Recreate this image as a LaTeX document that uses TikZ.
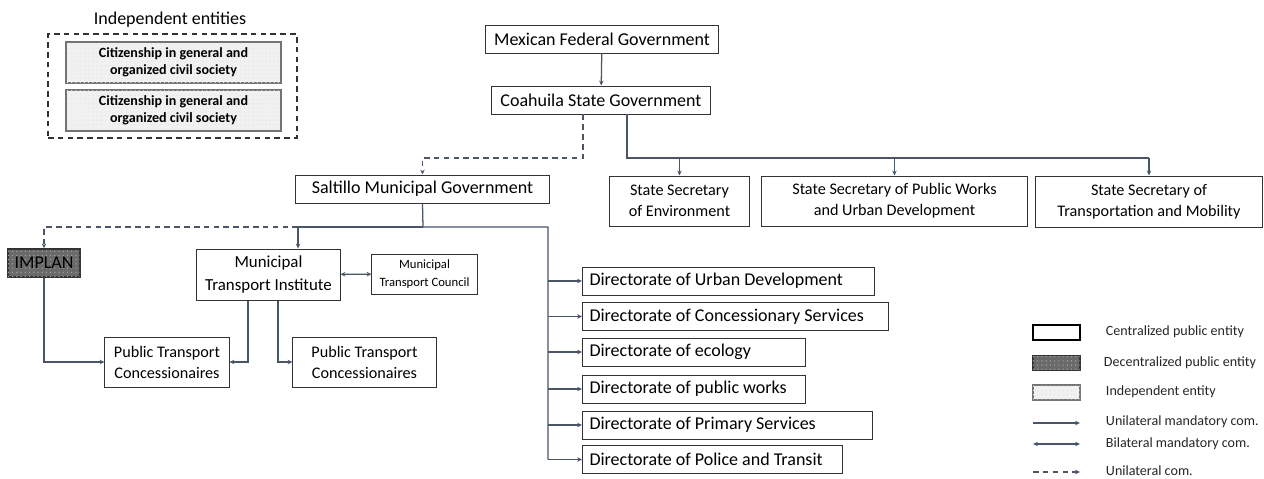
\documentclass[tikz,border=0pt]{standalone}
\usepackage{fontspec}
\setmainfont{Carlito}
\usetikzlibrary{arrows.meta,patterns}

\definecolor{linecol}{HTML}{4A5568}
\definecolor{boxcol}{HTML}{333333}
\definecolor{decfill}{HTML}{6A6A6A}
\definecolor{indfill}{HTML}{F1F1F1}

\newcommand{\bigfont}{\fontsize{12.8}{15}\selectfont}
\newcommand{\midfont}{\fontsize{11.5}{15}\selectfont}
\newcommand{\citfont}{\fontsize{10}{11.8}\selectfont\bfseries}
\newcommand{\mtcfont}{\fontsize{9}{12.3}\selectfont}
\newcommand{\legfont}{\fontsize{10}{12}\selectfont}

\begin{document}
\begin{tikzpicture}[
    x=0.025cm, y=-0.025cm,
    box/.style={draw=boxcol, line width=0.7pt, fill=white, align=center, inner sep=1pt},
    onebox/.style={box, font=\bigfont, minimum height=0.7cm},
    twobox/.style={box, font=\midfont, minimum height=1.25cm},
    dirbox/.style={box, font=\bigfont, anchor=west, align=flush left, inner xsep=0.175cm, minimum height=0.7cm},
    decbox/.style={box, fill=decfill, draw=black!80, line width=1pt, postaction={pattern=dots, pattern color=black!35}},
    indbox/.style={box, fill=indfill, draw=black!55, line width=1pt, postaction={pattern=dots, pattern color=black!10}},
    arrow/.style={-{Stealth[length=3.5pt,width=3.2pt]}, draw=linecol, line width=0.9pt},
    biarrow/.style={{Stealth[length=3.5pt,width=3.2pt]}-{Stealth[length=3.5pt,width=3.2pt]}, draw=linecol, line width=0.9pt},
    dasharrow/.style={arrow, dash pattern=on 4pt off 3pt},
    legtext/.style={anchor=west, font=\legfont, text=black!85}
]
\useasboundingbox (0,0) rectangle (1264,479);

% Independent entities
\node[font=\bigfont] (indtitle) at (170,20) {Independent entities};
\node[draw=boxcol, line width=0.9pt, dash pattern=on 4pt off 3pt, minimum width=6.225cm, minimum height=2.6cm] (indep) at (172.5,86) {};
\node[indbox, font=\citfont, minimum width=5.375cm, minimum height=1.025cm] (cit1) at (173.5,62.5) {Citizenship in general and\\organized civil society};
\node[indbox, font=\citfont, minimum width=5.375cm, minimum height=1.025cm] (cit2) at (173.5,110.5) {Citizenship in general and\\organized civil society};

% Federal and state level
\node[onebox, minimum width=5.8cm] (mexfed) at (602,39) {Mexican Federal Government};
\node[onebox, minimum width=5.45cm] (coah) at (601,100) {Coahuila State Government};
\node[twobox, minimum width=3.475cm] (env) at (679.5,201) {State Secretary\\of Environment};
\node[twobox, minimum width=6.625cm] (pubworks) at (894.5,201) {State Secretary of Public Works\\and Urban Development};
\node[twobox, minimum width=5.65cm, minimum height=1.275cm] (transp) at (1149,201.5) {State Secretary of\\Transportation and Mobility};

% Municipal level
\node[onebox, minimum width=6.325cm] (saltillo) at (422.5,189) {Saltillo Municipal Government};
\node[decbox, font=\bigfont, minimum width=1.8cm, minimum height=0.7cm] (implan) at (44,263) {IMPLAN};
\node[twobox, font=\fontsize{12}{16}\selectfont, minimum width=3.575cm, minimum height=1.275cm] (mti) at (268.5,274.5) {Municipal\\Transport Institute};
\node[box, font=\mtcfont, minimum width=2.625cm, minimum height=1cm] (mtc) at (424.5,274) {Municipal\\Transport Council};
\node[twobox, minimum width=3.1cm] (ptc1) at (167,362) {Public Transport\\Concessionaires};
\node[twobox, minimum width=3.575cm] (ptc2) at (364.5,362) {Public Transport\\Concessionaires};

% Directorates
\node[dirbox, text width=6.95cm] (d1) at (582,281) {Directorate of Urban Development};
\node[dirbox, text width=7.3cm] (d2) at (582,316.5) {Directorate of Concessionary Services};
\node[dirbox, text width=5.225cm] (d3) at (582,352) {Directorate of ecology};
\node[dirbox, text width=5.225cm] (d4) at (582,389) {Directorate of public works};
\node[dirbox, text width=6.9cm] (d5) at (582,425) {Directorate of Primary Services};
\node[dirbox, text width=6.15cm] (d6) at (582,459.5) {Directorate of Police and Transit};

% Bus points
\coordinate (cs1) at (583,158);
\coordinate (cs2) at (627,158);
\coordinate (sb) at (423,227);
\coordinate (mb) at (298,227);
\coordinate (db) at (548,227);

% Federal -> state
\draw[arrow] (mexfed) -- (coah);
\draw[dasharrow] (coah.south -| cs1) -- (cs1) -| (saltillo.north);
\draw[draw=linecol, line width=1.5pt] (coah.south -| cs2) -- (cs2) -- (env.north |- cs2);
\draw[draw=linecol, line width=0.9pt] (env.north |- cs2) -- (transp.north |- cs2);
\draw[arrow] (env.north |- cs2) -- (env.north);
\draw[arrow] (pubworks.north |- cs2) -- (pubworks.north);
\draw[arrow] (transp.north |- cs2) -- (transp.north);

% Municipal relationships
\draw[draw=linecol, line width=0.9pt] (saltillo.south) -- (sb) -- (db) -- (db |- d6.west);
\draw[arrow] (sb) -- (mb) -- (mb |- mti.north);
\draw[dasharrow] (mb) -| (implan.north);
\draw[biarrow] (mti) -- (mtc);
\draw[arrow] (implan.south) |- (ptc1.west);
\draw[arrow] ([xshift=-0.51cm]mti.south) |- (ptc1.east);
\draw[arrow] ([xshift=0.24cm]mti.south) |- (ptc2.west);
\foreach \i in {1,...,6}
    \draw[arrow] (db |- d\i.west) -- (d\i.west);

% Legend
\node[box, draw=black, line width=1.6pt, minimum width=1.175cm, minimum height=0.375cm] (lgc) at (1056.5,332.5) {};
\node[decbox, minimum width=1.175cm, minimum height=0.375cm] (lgd) at (1056.5,363) {};
\node[indbox, minimum width=1.175cm, minimum height=0.375cm] (lgi) at (1056.5,392.5) {};
\coordinate (lu1) at (1033,423); \coordinate (lu2) at (1080,423);
\coordinate (lb1) at (1033,444); \coordinate (lb2) at (1080,444);
\coordinate (ld1) at (1033,472); \coordinate (ld2) at (1080,472);
\draw[arrow] (lu1) -- (lu2);
\draw[biarrow] (lb1) -- (lb2);
\draw[dasharrow] (ld1) -- (ld2);
\node[legtext] (tc) at (1101,332) {Centralized public entity};
\node[legtext] (td) at (1099,363) {Decentralized public entity};
\node[legtext] (ti) at (1101,392) {Independent entity};
\node[legtext] (tu) at (1101,422) {Unilateral mandatory com.};
\node[legtext] (tb) at (1101,444) {Bilateral mandatory com.};
\node[legtext] (tdc) at (1101,471) {Unilateral com.};

\end{tikzpicture}
\end{document}
